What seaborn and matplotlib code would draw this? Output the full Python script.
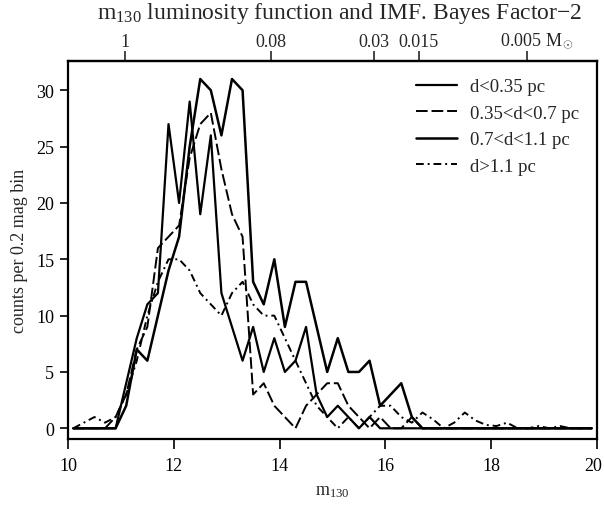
import numpy as np
import pandas as pd
import matplotlib
matplotlib.use("Agg")
import matplotlib.pyplot as plt
import matplotlib.transforms as mtransforms
import seaborn as sns

# ---- data ----
mag_bins = [10.1, 10.3, 10.5, 10.7, 10.9, 11.1, 11.3, 11.5, 11.7, 11.9,
            12.1, 12.3, 12.5, 12.7, 12.9, 13.1, 13.3, 13.5, 13.7, 13.9,
            14.1, 14.3, 14.5, 14.7, 14.9, 15.1, 15.3, 15.5, 15.7, 15.9,
            16.1, 16.3, 16.5, 16.7, 16.9, 17.1, 17.3, 17.5, 17.7, 17.9,
            18.1, 18.3, 18.5, 18.7, 18.9, 19.1, 19.3, 19.5, 19.7, 19.9]

counts_d_lt_035 = [0, 0, 0, 0, 0, 4, 8, 11, 12, 27,
                   20, 29, 19, 26, 12, 9, 6, 9, 5, 8,
                   5, 6, 9, 3, 1, 2, 1, 0, 1, 0,
                   0, 0, 0, 0, 0, 0, 0, 0, 0, 0,
                   0, 0, 0, 0, 0, 0, 0, 0, 0, 0]

counts_035_07 = [0, 0, 0, 0, 1, 3, 7, 9, 16, 17,
                 18, 24, 27, 28, 23, 19, 17, 3, 4, 2,
                 1, 0, 2, 3, 4, 4, 2, 1, 0, 1,
                 0, 0, 1, 0, 0, 0, 0, 0, 0, 0,
                 0, 0, 0, 0, 0, 0, 0, 0, 0, 0]

counts_07_11 = [0, 0, 0, 0, 0, 2, 7, 6, 10, 14,
                17, 25, 31, 30, 26, 31, 30, 13, 11, 15,
                9, 13, 13, 9, 5, 8, 5, 5, 6, 2,
                3, 4, 1, 0, 0, 0, 0, 0, 0, 0,
                0, 0, 0, 0, 0, 0, 0, 0, 0, 0]

counts_d_gt_11 = [0, 0.5, 1, 0.5, 1, 3, 6, 10, 13, 15,
                  15, 14, 12, 11, 10, 12, 13, 11, 10, 10,
                  8, 6, 4, 2, 1, 0, 1, 0, 1, 2,
                  2, 1, 0.5, 1.4, 0.8, 0, 0.5, 1.4, 0.7, 0.3,
                  0.2, 0.5, 0, 0, 0.2, 0, 0.2, 0, 0, 0]

series_labels = ["d<0.35 pc", "0.35<d<0.7 pc", "0.7<d<1.1 pc", "d>1.1 pc"]

mass_tick_pos = [11.08, 13.83, 15.78, 16.63, 18.68]
mass_tick_labels = ["1", "0.08", "0.03", "0.015", r"0.005 M$_\odot$"]

x_ticks = [10, 12, 14, 16, 18, 20]
y_ticks = [0, 5, 10, 15, 20, 25, 30]

# ---- style ----
sns.set_theme(style="ticks")
plt.rcParams["font.family"] = ["Liberation Serif", "DejaVu Serif"]
plt.rcParams["mathtext.fontset"] = "custom"
plt.rcParams["mathtext.rm"] = "Liberation Serif"
plt.rcParams["mathtext.it"] = "Liberation Serif:italic"
plt.rcParams["mathtext.default"] = "rm"

fig = plt.figure(figsize=(6.04, 5.06), dpi=100)
ax = fig.add_axes([68 / 604, 66 / 506, (597 - 68) / 604, (440 - 62) / 506])

frames = []
for lab, vals in zip(series_labels,
                     [counts_d_lt_035, counts_035_07, counts_07_11, counts_d_gt_11]):
    frames.append(pd.DataFrame({"mag": mag_bins, "counts": vals, "region": lab}))
df = pd.concat(frames, ignore_index=True)

styles = {
    "d<0.35 pc": dict(ls="-", lw=1.6),
    "0.35<d<0.7 pc": dict(ls=(0, (6, 2)), lw=1.4),
    "0.7<d<1.1 pc": dict(ls="-", lw=1.8),
    "d>1.1 pc": dict(ls=(0, (4, 2, 1, 2)), lw=1.4),
}
handles = []
for lab in series_labels:
    sub = df[df["region"] == lab]
    sns.lineplot(data=sub, x="mag", y="counts", ax=ax, color="black",
                 linestyle=styles[lab]["ls"], linewidth=styles[lab]["lw"],
                 legend=False, label=None)
    handles.append(ax.lines[-1])

ax.set_xlim(10, 20)
ax.set_ylim(-0.95, 32.6)
ax.set_xticks(x_ticks)
ax.set_yticks(y_ticks)
ax.tick_params(axis="x", direction="out", length=7, width=1.2,
               labelsize=13, colors="black", pad=6)
ax.tick_params(axis="y", direction="out", length=6, width=1.2,
               labelsize=13, colors="black", pad=4)
for sp in ax.spines.values():
    sp.set_linewidth(1.6)
    sp.set_color("black")
    sp.set_visible(True)

# keep the last bottom label ("20") inside the canvas
fig.canvas.draw()
last_shift = mtransforms.ScaledTranslation(-4 / 100, 0, fig.dpi_scale_trans)
xlabels = ax.get_xticklabels()
xlabels[-1].set_transform(xlabels[-1].get_transform() + last_shift)

ax.set_xlabel(r"m$_{130}$", fontsize=13, labelpad=6)
ax.set_ylabel("counts per 0.2 mag bin", fontsize=13, labelpad=6)

secax = ax.secondary_xaxis("top")
secax.set_xticks(mass_tick_pos, labels=mass_tick_labels)
secax.tick_params(direction="out", length=7, width=1.2, labelsize=13, pad=1)
shift = mtransforms.ScaledTranslation(10 / 100, 0, fig.dpi_scale_trans)
for lbl in secax.get_xticklabels():
    if "odot" in lbl.get_text():
        lbl.set_transform(lbl.get_transform() + shift)
secax.spines["top"].set_linewidth(1.6)

fig.text(340 / 604, 1 - 13 / 506,
         r"m$_{130}$ luminosity function and IMF. Bayes Factor$-$2",
         ha="center", va="center", fontsize=17)

leg = ax.legend(handles, series_labels, loc="upper right", frameon=False,
                fontsize=13.5, handlelength=2.2, handletextpad=0.7,
                labelspacing=0.5, borderpad=0, borderaxespad=0,
                bbox_to_anchor=(0.966, 0.955))

fig.savefig("out.png", dpi=100)
